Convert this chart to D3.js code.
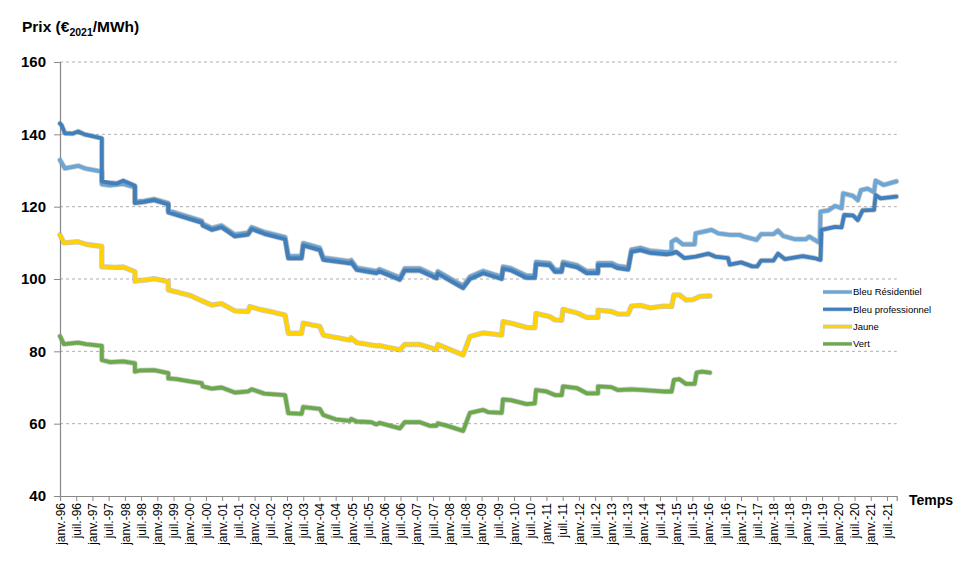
<!DOCTYPE html>
<html><head><meta charset="utf-8">
<script src="https://cdn.jsdelivr.net/npm/d3@7/dist/d3.min.js"></script>
<style>body{margin:0;background:#fff}svg{display:block}text{font-family:"Liberation Sans",Arial,sans-serif}</style>
</head><body><svg id="c" width="972" height="571"></svg>
<script>
// ---- data (decimal year, €2021/MWh) ----
const bleuResidentiel = [
[1996.00,132.9],[1996.15,130.6],[1996.56,131.3],[1996.8,130.5],[1997.29,129.7],[1997.29,126.2],[1997.55,125.9],[1997.95,126.3],[1998.31,125.3],[1998.31,121.4],[1998.6,121.6],[1998.9,122.1],[1999.34,121.0],[1999.34,118.9],[2000.37,116.1],[2000.4,115.3],[2000.68,114.1],[2000.98,114.8],[2001.39,112.3],[2001.8,112.8],[2001.91,114.3],[2002.3,113.0],[2002.94,111.6],[2003.04,106.3],[2003.45,106.3],[2003.5,109.9],[2004.01,108.6],[2004.12,105.9],[2004.94,104.9],[2004.98,105.2],[2005.15,103.1],[2005.76,102.2],[2005.85,102.7],[2006.48,100.4],[2006.63,102.9],[2007.1,102.9],[2007.61,100.8],[2007.65,102.1],[2008.43,98.1],[2008.64,100.6],[2009.05,102.2],[2009.62,100.6],[2009.66,103.4],[2009.9,103.0],[2010.39,100.9],[2010.64,100.9],[2010.68,104.7],[2011.1,104.4],[2011.26,102.6],[2011.47,102.6],[2011.51,104.7],[2011.95,103.8],[2012.24,102.2],[2012.59,102.2],[2012.59,104.4],[2013.0,104.4],[2013.2,103.6],[2013.52,103.2],[2013.62,108.1],[2013.9,108.6],[2014.2,107.8],[2014.7,107.4],[2014.86,107.6],[2014.86,110.3],[2015.0,111.0],[2015.2,109.6],[2015.57,109.6],[2015.6,112.6],[2016.09,113.6],[2016.3,112.6],[2016.65,112.2],[2016.96,112.2],[2017.1,111.7],[2017.48,110.8],[2017.62,112.4],[2018.0,112.4],[2018.14,113.4],[2018.3,111.9],[2018.66,111.0],[2019.0,111.0],[2019.1,111.7],[2019.43,110.0],[2019.45,118.6],[2019.7,119.0],[2019.9,120.2],[2020.1,119.6],[2020.15,123.7],[2020.45,123.0],[2020.6,121.8],[2020.7,124.6],[2020.9,125.0],[2021.1,124.0],[2021.15,127.2],[2021.4,126.0],[2021.79,127.0]
];
const bleuProfessionnel = [
[1996.00,143.0],[1996.05,142.5],[1996.15,140.3],[1996.4,140.2],[1996.56,140.8],[1996.75,140.0],[1997.0,139.5],[1997.29,138.9],[1997.29,127.0],[1997.55,126.6],[1997.75,126.4],[1997.95,127.2],[1998.31,125.8],[1998.31,121.0],[1998.6,121.3],[1998.9,121.8],[1999.34,120.6],[1999.34,118.4],[2000.37,115.6],[2000.4,114.8],[2000.68,113.6],[2000.98,114.3],[2001.39,111.8],[2001.8,112.3],[2001.91,113.8],[2002.3,112.5],[2002.94,111.0],[2003.04,105.7],[2003.45,105.7],[2003.5,109.3],[2004.01,108.0],[2004.12,105.3],[2004.94,104.3],[2004.98,104.6],[2005.15,102.5],[2005.76,101.6],[2005.85,102.1],[2006.48,99.8],[2006.63,102.3],[2007.1,102.3],[2007.61,100.2],[2007.65,101.5],[2008.43,97.5],[2008.64,100.0],[2009.05,101.6],[2009.62,100.0],[2009.66,102.8],[2009.9,102.4],[2010.39,100.3],[2010.64,100.3],[2010.68,104.1],[2011.1,103.8],[2011.26,102.0],[2011.47,102.0],[2011.51,104.1],[2011.95,103.2],[2012.24,101.6],[2012.59,101.6],[2012.59,103.8],[2013.0,103.8],[2013.2,103.0],[2013.52,102.6],[2013.62,107.5],[2013.9,108.0],[2014.2,107.2],[2014.7,106.8],[2014.86,107.0],[2015.0,107.5],[2015.25,105.8],[2015.6,106.2],[2016.0,107.0],[2016.2,106.2],[2016.6,105.8],[2016.65,104.0],[2017.0,104.6],[2017.35,103.5],[2017.5,103.5],[2017.62,105.1],[2018.0,105.1],[2018.14,107.0],[2018.35,105.5],[2018.9,106.3],[2019.25,105.8],[2019.45,105.3],[2019.48,113.6],[2019.9,114.4],[2020.1,114.3],[2020.18,117.7],[2020.45,117.6],[2020.6,116.3],[2020.75,119.0],[2021.1,119.1],[2021.15,123.2],[2021.3,122.3],[2021.79,122.8]
];
const jaune = [
[1996.00,112.2],[1996.12,110.0],[1996.56,110.3],[1996.8,109.6],[1997.29,109.0],[1997.29,103.4],[1997.7,103.2],[1997.95,103.3],[1998.31,102.0],[1998.31,99.4],[1998.7,99.8],[1998.9,100.1],[1999.34,99.3],[1999.34,97.0],[2000.0,95.5],[2000.37,94.0],[2000.68,92.8],[2000.98,93.2],[2001.39,91.2],[2001.8,91.0],[2001.85,92.4],[2002.2,91.5],[2002.5,91.0],[2002.94,90.0],[2003.04,85.0],[2003.45,85.0],[2003.5,87.8],[2004.01,86.9],[2004.12,84.5],[2004.94,83.1],[2004.98,83.7],[2005.15,82.4],[2005.76,81.5],[2005.85,81.6],[2006.48,80.4],[2006.63,81.9],[2007.1,81.9],[2007.61,80.5],[2007.65,81.9],[2008.43,79.0],[2008.64,84.1],[2009.05,85.1],[2009.62,84.5],[2009.66,88.2],[2009.9,87.8],[2010.39,86.6],[2010.64,86.5],[2010.68,90.5],[2011.1,89.6],[2011.26,88.7],[2011.47,88.6],[2011.51,91.6],[2011.95,90.6],[2012.24,89.4],[2012.59,89.4],[2012.59,91.4],[2013.0,91.0],[2013.2,90.3],[2013.52,90.3],[2013.62,92.5],[2013.9,92.7],[2014.2,92.0],[2014.6,92.5],[2014.86,92.4],[2014.93,95.6],[2015.1,95.6],[2015.3,94.2],[2015.52,94.3],[2015.73,95.2],[2016.04,95.3]
];
const vert = [
[1996.00,84.2],[1996.12,82.0],[1996.56,82.4],[1996.8,82.0],[1997.29,81.5],[1997.29,77.6],[1997.55,77.0],[1997.95,77.2],[1998.31,76.7],[1998.31,74.4],[1998.45,74.7],[1998.9,74.8],[1999.34,74.0],[1999.34,72.5],[1999.6,72.3],[2000.0,71.7],[2000.37,71.2],[2000.4,70.3],[2000.68,69.7],[2000.98,70.0],[2001.39,68.6],[2001.8,68.9],[2001.91,69.5],[2002.3,68.3],[2002.94,67.9],[2003.04,62.9],[2003.45,62.7],[2003.5,64.6],[2004.01,64.1],[2004.12,62.4],[2004.5,61.2],[2004.94,60.8],[2004.98,61.3],[2005.15,60.6],[2005.6,60.4],[2005.76,59.8],[2005.85,60.2],[2006.48,58.7],[2006.63,60.4],[2007.1,60.4],[2007.4,59.4],[2007.61,59.4],[2007.65,60.1],[2007.95,59.4],[2008.43,58.0],[2008.64,63.0],[2009.05,63.8],[2009.2,63.2],[2009.62,63.0],[2009.66,66.7],[2009.9,66.5],[2010.39,65.4],[2010.64,65.6],[2010.68,69.3],[2011.0,68.9],[2011.26,67.9],[2011.47,67.9],[2011.51,70.3],[2011.95,69.8],[2012.24,68.4],[2012.59,68.4],[2012.59,70.3],[2013.0,70.1],[2013.2,69.3],[2013.62,69.5],[2014.0,69.3],[2014.6,68.9],[2014.86,68.9],[2014.93,72.1],[2015.1,72.3],[2015.3,71.0],[2015.57,71.0],[2015.63,74.1],[2015.8,74.4],[2016.04,74.1]
];
const seriesNames = ["Bleu Résidentiel","Bleu professionnel","Jaune","Vert"];
const seriesColors = ["#6aa6d8","#3f7fbd","#ffd200","#6aaa4a"];
const yTicks = [40,60,80,100,120,140,160];
const xTickLabels = ["janv.-96","juil.-96","janv.-97","juil.-97","janv.-98","juil.-98","janv.-99","juil.-99","janv.-00","juil.-00","janv.-01","juil.-01","janv.-02","juil.-02","janv.-03","juil.-03","janv.-04","juil.-04","janv.-05","juil.-05","janv.-06","juil.-06","janv.-07","juil.-07","janv.-08","juil.-08","janv.-09","juil.-09","janv.-10","juil.-10","janv.-11","juil.-11","janv.-12","juil.-12","janv.-13","juil.-13","janv.-14","juil.-14","janv.-15","juil.-15","janv.-16","juil.-16","janv.-17","juil.-17","janv.-18","juil.-18","janv.-19","juil.-19","janv.-20","juil.-20","janv.-21","juil.-21"];

// ---- drawing ----
const svg = d3.select("#c");
const x = d3.scaleLinear().domain([1996, 2021.8]).range([60, 896.7]);
const y = d3.scaleLinear().domain([40, 160]).range([496, 62]);

// grid
svg.append("g").selectAll("line").data(yTicks.filter(d=>d>40)).join("line")
  .attr("x1", x(1996)).attr("x2", x(2021.8)).attr("y1", d=>y(d)).attr("y2", d=>y(d))
  .attr("stroke","#9a9a9a").attr("stroke-width",0.8).attr("stroke-dasharray","3,3");

// y axis
const ya = svg.append("g").attr("transform",`translate(${x(1996)},0)`)
  .call(d3.axisLeft(y).tickValues(yTicks).tickSize(6).tickPadding(8));
ya.select(".domain").attr("stroke","#888").attr("stroke-width",1.2);
ya.selectAll(".tick line").attr("stroke","#888");
ya.selectAll("text").attr("font-size",15).attr("font-weight","bold").attr("fill","#000")
  .attr("font-family","Liberation Sans, Arial, sans-serif");

// x axis
const xTickValues = xTickLabels.map((d,i)=>1996 + i*0.5);
const xa = svg.append("g").attr("transform",`translate(0,${y(40)})`)
  .call(d3.axisBottom(x).tickValues(xTickValues).tickSize(5).tickFormat((d,i)=>xTickLabels[i]));
xa.select(".domain").attr("stroke","#888").attr("stroke-width",1.2);
xa.selectAll(".tick line").attr("stroke","#888");
xa.selectAll("text").attr("font-size",12).attr("fill","#000")
  .attr("font-family","Liberation Sans, Arial, sans-serif")
  .attr("text-anchor","end").attr("transform","rotate(-90)")
  .attr("x",-7).attr("y",0).attr("dy","0.35em");

// lines
const line = d3.line().x(d=>x(d[0])).y(d=>y(d[1]));
const allSeries = [bleuResidentiel, bleuProfessionnel, jaune, vert];
const order = [3,2,0,1];
order.forEach(i=>{
  svg.append("path").datum(allSeries[i]).attr("d",line).attr("fill","none")
    .attr("stroke","#8a8a8a").attr("stroke-opacity",0.45).attr("stroke-width",5.4)
    .attr("stroke-linejoin","round").attr("stroke-linecap","round");
  svg.append("path").datum(allSeries[i]).attr("d",line).attr("fill","none")
    .attr("stroke",seriesColors[i]).attr("stroke-width",3.8)
    .attr("stroke-linejoin","round").attr("stroke-linecap","round");
});

// titles
const t = svg.append("text").attr("x",22).attr("y",32).attr("font-size",15.5).attr("font-weight","bold").attr("fill","#000");
t.append("tspan").text("Prix (€");
t.append("tspan").attr("font-size",10.5).attr("dy",4).text("2021");
t.append("tspan").attr("dy",-4).text("/MWh)");
svg.append("text").attr("x",909).attr("y",505).attr("font-size",14).attr("font-weight","bold").attr("fill","#000").text("Temps");

// legend
const lg = svg.append("g").attr("transform","translate(823,292)");
seriesNames.forEach((n,i)=>{
  const g = lg.append("g").attr("transform",`translate(0,${i*17.3})`);
  g.append("line").attr("x1",0).attr("x2",29).attr("stroke","#999").attr("stroke-opacity",0.5).attr("stroke-width",4.2);
  g.append("line").attr("x1",0).attr("x2",29).attr("stroke",seriesColors[i]).attr("stroke-width",3);
  g.append("text").attr("x",30).attr("dy","0.35em").attr("font-size",9.5).attr("fill","#000").text(n);
});
</script></body></html>
